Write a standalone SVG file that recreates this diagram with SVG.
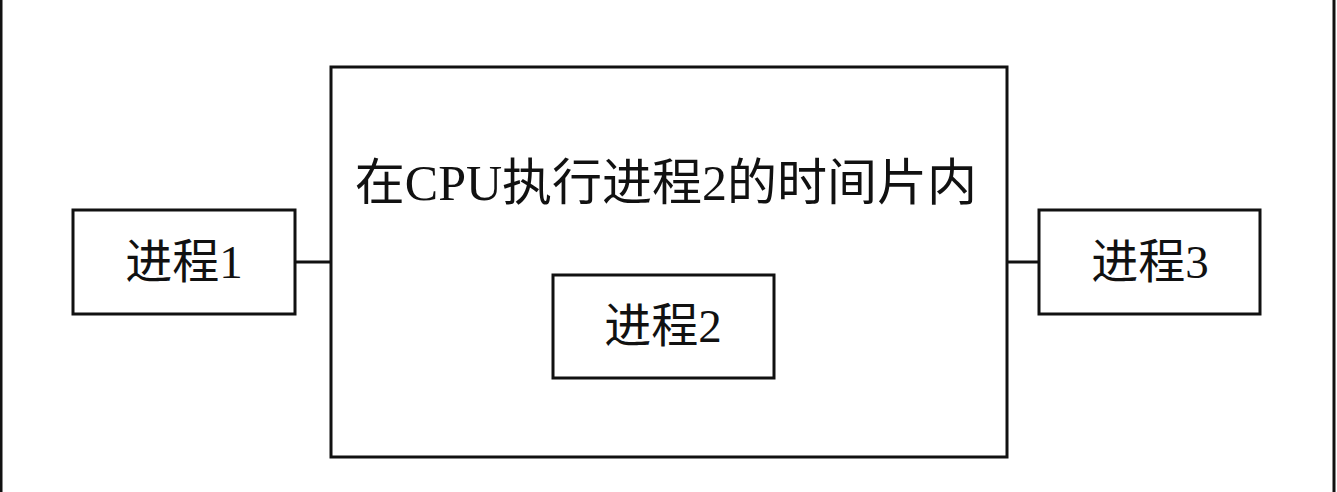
<svg xmlns="http://www.w3.org/2000/svg" width="1337" height="492" viewBox="0 0 1337 492">
<style>
.box{fill:#fff;stroke:#111;stroke-width:3}
.ln{stroke:#111;stroke-width:3;fill:none}
.t{font-family:"Liberation Serif","Noto Sans CJK SC",serif;font-size:47px;fill:#111;text-anchor:middle;dominant-baseline:central}
</style>
<rect width="1337" height="492" fill="#fff"/>
<g id="frame">
<line class="ln" x1="1" y1="0" x2="1" y2="492"/>
<line class="ln" x1="1334" y1="0" x2="1334" y2="492"/>
</g>
<g id="connectors">
<line class="ln" x1="295" y1="262" x2="331" y2="262"/>
<line class="ln" x1="1007" y1="262" x2="1039" y2="262"/>
</g>
<g id="cpu">
<rect class="box" x="331" y="67" width="676" height="390"/>
<text class="t" x="666" y="183" style="font-size:50px">在CPU执行进程2的时间片内</text>
</g>
<g id="p1">
<rect class="box" x="73" y="210" width="222" height="104"/>
<text class="t" x="184" y="262">进程1</text>
</g>
<g id="p2">
<rect class="box" x="553" y="275" width="221" height="103"/>
<text class="t" x="663" y="326">进程2</text>
</g>
<g id="p3">
<rect class="box" x="1039" y="210" width="221" height="104"/>
<text class="t" x="1150" y="262">进程3</text>
</g>
</svg>
